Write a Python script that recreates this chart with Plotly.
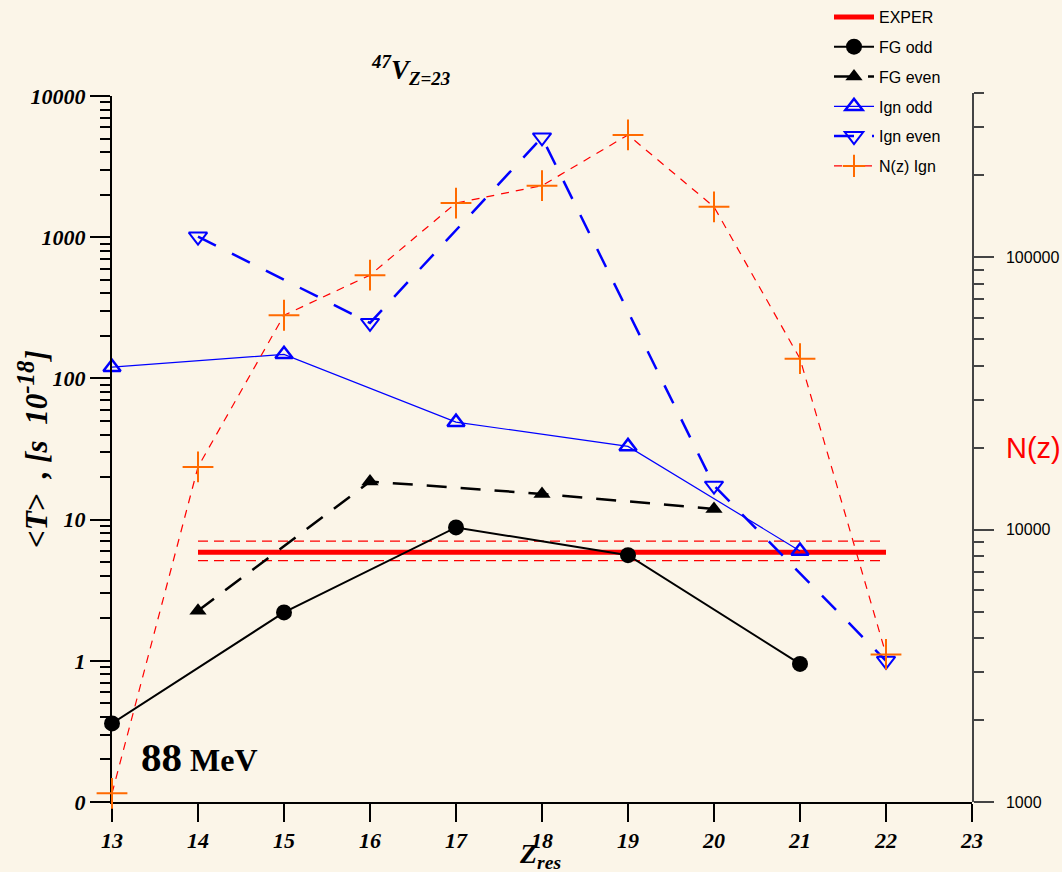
import plotly.graph_objects as go

# ---------------- data ----------------
z_fg_odd = [13, 15, 17, 19, 21]
t_fg_odd = [0.36, 2.2, 8.8, 5.6, 0.95]

z_fg_even = [14, 16, 18, 20]
t_fg_even = [2.26, 18.6, 15.2, 11.9]

z_ign_odd = [13, 15, 17, 19, 21]
t_ign_odd = [120, 148, 49, 33, 6.0]

z_ign_even = [14, 16, 18, 20, 22]
t_ign_even = [1010, 247, 5090, 17.4, 1.0]

z_nz = [13, 14, 15, 16, 17, 18, 19, 20, 21, 22]
n_nz = [1076, 16980, 61200, 85900, 158000, 183000, 281000, 153000, 42400, 3480]

exper_z = [14, 22]
exper_val = 5.86
exper_hi = 7.03
exper_lo = 5.12

left_tickvals = [0.1, 1, 10, 100, 1000, 10000]
left_ticktext = ["0", "1", "10", "100", "1000", "10000"]
right_tickvals = [1000, 10000, 100000]
right_ticktext = ["1000", "10000", "100000"]
x_ticks = list(range(13, 24))

# ---------------- style ----------------
BG = "#FBF5E8"
SERIF = "Liberation Serif"
SANS = "Liberation Sans"
RED = "#FF0000"
BLUE = "#0000FF"
ORANGE = "#FF6A00"

fig = go.Figure()

fig.add_trace(go.Scatter(
    x=exper_z, y=[exper_val] * len(exper_z), mode="lines", name="EXPER",
    line=dict(color=RED, width=5), legendgroup="g1", cliponaxis=False))
fig.add_trace(go.Scatter(
    x=exper_z, y=[exper_hi] * len(exper_z), mode="lines", showlegend=False,
    line=dict(color=RED, width=1.2, dash="10px,6px"), hoverinfo="skip"))
fig.add_trace(go.Scatter(
    x=exper_z, y=[exper_lo] * len(exper_z), mode="lines", showlegend=False,
    line=dict(color=RED, width=1.2, dash="10px,6px"), hoverinfo="skip"))

fig.add_trace(go.Scatter(
    x=z_fg_odd, y=t_fg_odd, mode="lines+markers", name="FG odd",
    line=dict(color="black", width=2),
    marker=dict(symbol="circle", size=16, color="black"),
    legendgroup="g2", cliponaxis=False))
fig.add_trace(go.Scatter(
    x=z_fg_even, y=t_fg_even, mode="lines+markers", name="FG even",
    line=dict(color="black", width=2.5, dash="20px,14px"),
    marker=dict(symbol="triangle-up", size=15, color="black"),
    legendgroup="g3", cliponaxis=False))
fig.add_trace(go.Scatter(
    x=z_ign_odd, y=t_ign_odd, mode="lines+markers", name="Ign odd",
    line=dict(color=BLUE, width=1.2),
    marker=dict(symbol="triangle-up-open", size=15, color=BLUE, line=dict(width=2.5, color=BLUE)),
    legendgroup="g4", cliponaxis=False))
fig.add_trace(go.Scatter(
    x=z_ign_even, y=t_ign_even, mode="lines+markers", name="Ign even",
    line=dict(color=BLUE, width=2.5, dash="20px,18px"),
    marker=dict(symbol="triangle-down-open", size=16, color=BLUE, line=dict(width=2, color=BLUE)),
    legendgroup="g5", cliponaxis=False))
fig.add_trace(go.Scatter(
    x=z_nz, y=n_nz, mode="lines+markers", name="N(z) Ign", yaxis="y2",
    line=dict(color=RED, width=1.2, dash="8px,7px"),
    marker=dict(symbol="cross-thin", size=22, color=ORANGE, line=dict(width=2, color=ORANGE)),
    legendgroup="g6", cliponaxis=False))

minor_left = [k * 10 ** e for e in range(-1, 4) for k in range(2, 10)]
minor_right = [k * 10 ** e for e in range(3, 5) for k in range(2, 10)] + [200000, 300000, 400000]

tickfont_serif = dict(family=SERIF, size=22, color="black", weight="bold", style="italic")


def px_x(px):
    return (px - 112) / 860


def px_y(py):
    return (802 - py) / 709


fig.update_layout(
    width=1062, height=872, autosize=False,
    margin=dict(l=112, r=90, t=93, b=70, autoexpand=False),
    paper_bgcolor=BG, plot_bgcolor="rgba(0,0,0,0)",
    showlegend=True,
    legend=dict(
        x=px_x(829), y=px_y(0), xanchor="left", yanchor="top",
        bgcolor="rgba(0,0,0,0)", borderwidth=0,
        font=dict(family=SANS, size=16, color="black"),
        tracegroupgap=6, itemwidth=40,
    ),
    xaxis=dict(
        range=[13, 23], tickmode="array", tickvals=x_ticks,
        ticks="outside", ticklen=18, tickwidth=2, tickcolor="black",
        showline=True, linewidth=2, linecolor="black",
        showgrid=False, zeroline=False, tickfont=tickfont_serif,
        anchor="y", automargin=False,
    ),
    yaxis=dict(
        type="log", range=[-1, 4], domain=[0, 706 / 709],
        tickmode="array", tickvals=left_tickvals, ticktext=left_ticktext,
        ticks="outside", ticklen=20, tickwidth=2, tickcolor="black",
        showline=True, linewidth=2, linecolor="black",
        showgrid=False, zeroline=False, tickfont=tickfont_serif,
        minor=dict(tickmode="array", tickvals=minor_left, ticks="outside",
                   ticklen=10, tickwidth=2, tickcolor="black", showgrid=False),
        anchor="x", automargin=False,
    ),
    yaxis2=dict(
        type="log", range=[3, 5.6026], domain=[0, 1], anchor="x", side="right",
        tickmode="array", tickvals=right_tickvals, ticktext=right_ticktext,
        ticks="outside", ticklen=20, tickwidth=1.5, tickcolor="#444444",
        showline=True, linewidth=1.5, linecolor="#444444",
        showgrid=False, zeroline=False, ticklabelstandoff=9,
        tickfont=dict(family=SANS, size=16, color="black"),
        minor=dict(tickmode="array", tickvals=minor_right, ticks="outside",
                   ticklen=10, tickwidth=1.5, tickcolor="#444444", showgrid=False),
        automargin=False,
    ),
)

fig.add_annotation(
    x=px_x(410), y=px_y(70), xref="paper", yref="paper", showarrow=False,
    xanchor="center", yanchor="middle",
    text="<sup>47</sup>V<sub>Z=23</sub>",
    font=dict(family=SERIF, size=27, color="black", weight="bold", style="italic"))
fig.add_annotation(
    x=px_x(540), y=px_y(855), xref="paper", yref="paper", showarrow=False,
    xanchor="center", yanchor="middle",
    text="Z<sub>res</sub>",
    font=dict(family=SERIF, size=28, color="black", weight="bold", style="italic"))
fig.add_annotation(
    x=px_x(33), y=px_y(449), xref="paper", yref="paper", showarrow=False,
    xanchor="center", yanchor="middle",
    textangle=-90,
    text="&lt;T&gt;  , [s  10<sup><span style='font-size:25px'>-18</span></sup>]",
    font=dict(family=SERIF, size=31, color="black", weight="bold", style="italic"))
fig.add_annotation(
    x=px_x(139), y=px_y(757), xref="paper", yref="paper", showarrow=False,
    xanchor="left", yanchor="middle",
    text="<span style='font-size:41px'>88</span> MeV",
    font=dict(family=SERIF, size=32, color="black", weight="bold"))
fig.add_annotation(
    x=px_x(1033), y=px_y(448), xref="paper", yref="paper", showarrow=False,
    xanchor="center", yanchor="middle",
    text="N(z)", font=dict(family=SANS, size=29, color=RED))

fig.write_html(
    "out.html",
    config={"displayModeBar": False},
    post_script="document.body.style.margin='0px';document.body.style.background='" + BG + "';",
)
